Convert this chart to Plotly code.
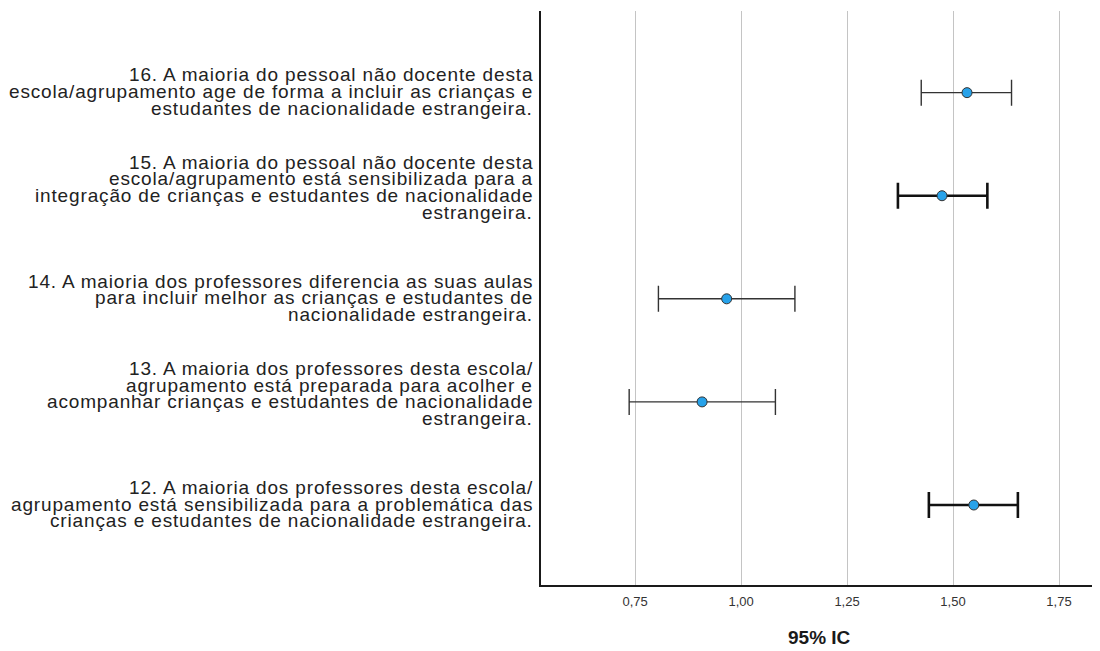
import plotly.graph_objects as go

# ---- data (bottom to top) ----
item_keys = ["12", "13", "14", "15", "16"]
item_lines = [
    ["12. A maioria dos professores desta escola/",
     "agrupamento está sensibilizada para a problemática das",
     "crianças e estudantes de nacionalidade estrangeira."],
    ["13. A maioria dos professores desta escola/",
     "agrupamento está preparada para acolher e",
     "acompanhar crianças e estudantes de nacionalidade",
     "estrangeira."],
    ["14. A maioria dos professores diferencia as suas aulas",
     "para incluir melhor as crianças e estudantes de",
     "nacionalidade estrangeira."],
    ["15. A maioria do pessoal não docente desta",
     "escola/agrupamento está sensibilizada para a",
     "integração de crianças e estudantes de nacionalidade",
     "estrangeira."],
    ["16. A maioria do pessoal não docente desta",
     "escola/agrupamento age de forma a incluir as crianças e",
     "estudantes de nacionalidade estrangeira."],
]
means = [1.549, 0.908, 0.966, 1.474, 1.533]
ci_low = [1.443, 0.736, 0.805, 1.370, 1.425]
ci_high = [1.653, 1.081, 1.127, 1.581, 1.638]
x_ticks = [0.75, 1.00, 1.25, 1.50, 1.75]
x_title = "95% IC"

# ---- styles ----
bar_width = {"12": 2.6, "13": 1.4, "14": 1.4, "15": 2.6, "16": 1.4}
bar_color = {"12": "#111111", "13": "#333333", "14": "#333333", "15": "#111111", "16": "#333333"}

FONT = "Liberation Sans, Arial, sans-serif"
fig = go.Figure()
for k, m, lo, hi in zip(item_keys, means, ci_low, ci_high):
    fig.add_trace(go.Scatter(
        x=[m], y=[k], mode="markers",
        marker=dict(size=10, color="#27a2ea", line=dict(color="#333333", width=1)),
        error_x=dict(type="data", symmetric=False, array=[hi - m], arrayminus=[m - lo],
                     color=bar_color[k], thickness=bar_width[k], width=13),
        showlegend=False, hoverinfo="skip",
    ))

line_h = 16.8
annotations = []
for idx, lines in enumerate(item_lines):
    n = len(lines)
    for i, txt in enumerate(lines):
        annotations.append(dict(
            x=0, xref="paper", xanchor="right", xshift=-6,
            y=idx, yref="y", yanchor="middle",
            yshift=(n // 2 - i) * line_h - (1 if n % 2 == 0 else 0) + 1,
            text='<span style="letter-spacing:0.85px">' + txt + "</span>",
            showarrow=False,
            font=dict(family=FONT, size=19, color="#222222"),
        ))
annotations.append(dict(
    x=0.5, xref="paper", y=0, yref="paper", yshift=-52, yanchor="middle",
    text="<b>" + x_title + "</b>", showarrow=False,
    font=dict(family=FONT, size=19, color="#1a1a1a"),
))

# page body has an 8px margin, so the figure is sized/offset to compensate
fig.update_layout(
    width=1092, height=643,
    margin=dict(l=533, r=2, t=3, b=66),
    paper_bgcolor="white", plot_bgcolor="white",
    separators=",.",
    annotations=annotations,
    xaxis=dict(range=[0.528, 1.842], tickvals=x_ticks, tickformat=".2f",
               showgrid=True, gridcolor="#c4c4c4", gridwidth=1,
               showline=True, linecolor="#1a1a1a", linewidth=1.5,
               zeroline=False, ticks="", ticklabelstandoff=4,
               tickfont=dict(family=FONT, size=13, color="#333333")),
    yaxis=dict(type="category", categoryorder="array", categoryarray=item_keys,
               range=[-0.776, 4.792], showticklabels=False, showgrid=False,
               showline=True, linecolor="#1a1a1a", linewidth=1.5,
               zeroline=False, ticks=""),
)
fig.write_html("out.html")
